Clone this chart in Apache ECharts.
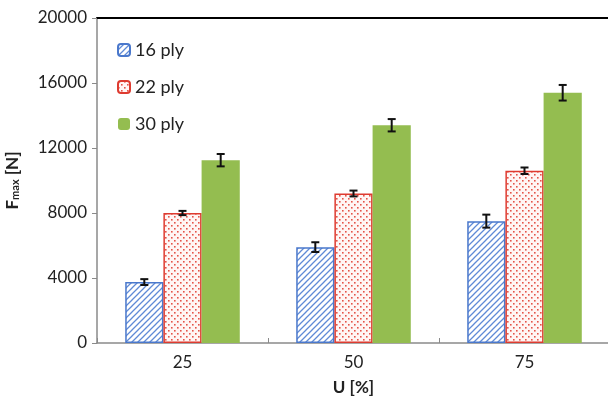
<!DOCTYPE html>
<html>
<head>
<meta charset="utf-8">
<script src="https://cdn.jsdelivr.net/npm/echarts@6/dist/echarts.min.js"></script>
<style>
  html, body { margin: 0; padding: 0; background: #fff; }
  #chart { width: 608px; height: 399px; }
</style>
</head>
<body>
<div id="chart"></div>
<script>
// Utilisation levels and peak force per laminate thickness
const categories = ['25', '50', '75'];
const seriesNames = ['16 ply', '22 ply', '30 ply'];
const ply16 = [3750, 5900, 7500];
const ply22 = [8000, 9200, 10600];
const ply30 = [11250, 13400, 15400];
const err16 = [180, 300, 400];
const err22 = [130, 180, 200];
const err30 = [380, 380, 480];
const yTicks = { min: 0, max: 20000, interval: 4000 };

const FONT = 'Lato, "Open Sans", sans-serif';

// Diagonal blue hatch fill
function hatchPattern() {
  const s = 6;
  const c = document.createElement('canvas');
  c.width = s; c.height = s;
  const g = c.getContext('2d');
  g.fillStyle = '#ffffff';
  g.fillRect(0, 0, s, s);
  g.strokeStyle = '#5f8ad6';
  g.lineWidth = 1.3;
  g.beginPath();
  g.moveTo(-1, s + 1); g.lineTo(s + 1, -1);
  g.moveTo(-1, 1); g.lineTo(1, -1);
  g.moveTo(s - 1, s + 1); g.lineTo(s + 1, s - 1);
  g.stroke();
  return c;
}

// Red dotted fill
function dotPattern() {
  const s = 6;
  const c = document.createElement('canvas');
  c.width = s; c.height = s;
  const g = c.getContext('2d');
  g.fillStyle = '#fff6f5';
  g.fillRect(0, 0, s, s);
  g.fillStyle = '#e4544a';
  g.fillRect(0, 0, 1.6, 1.6);
  g.fillRect(3, 3, 1.6, 1.6);
  return c;
}

const BAR_CAT_GAP = 0.33;
const seriesStyles = [
  { color: { image: hatchPattern(), repeat: 'repeat' }, border: '#4a78cc' },
  { color: { image: dotPattern(), repeat: 'repeat' }, border: '#de3b30' },
  { color: '#94bd50', border: '#94bd50' }
];
const values = [ply16, ply22, ply30];
const errors = [err16, err22, err30];

const barSeries = values.map((vals, i) => ({
  name: seriesNames[i],
  type: 'bar',
  data: vals,
  barGap: 0,
  barCategoryGap: (BAR_CAT_GAP * 100) + '%',
  itemStyle: {
    color: seriesStyles[i].color,
    borderColor: seriesStyles[i].border,
    borderWidth: i === 2 ? 0 : 1.5
  }
}));

const errorSeries = values.map((vals, i) => ({
  type: 'custom',
  name: 'err' + i,
  z: 10,
  encode: { x: 0, y: 1 },
  data: vals.map((v, k) => [k, v, errors[i][k]]),
  renderItem: function (params, api) {
    const idx = api.value(0);
    const v = api.value(1);
    const e = api.value(2);
    const band = api.size([1, 0])[0];
    const barW = band * (1 - BAR_CAT_GAP) / 3;
    const cx = api.coord([idx, v])[0] + (i - 1) * barW;
    const yTop = api.coord([idx, v + e])[1];
    const yBot = api.coord([idx, v - e])[1];
    const half = 4;
    const style = { stroke: '#111', lineWidth: 2, fill: null };
    return {
      type: 'group',
      children: [
        { type: 'line', shape: { x1: cx, y1: yTop, x2: cx, y2: yBot }, style },
        { type: 'line', shape: { x1: cx - half, y1: yTop, x2: cx + half, y2: yTop }, style },
        { type: 'line', shape: { x1: cx - half, y1: yBot, x2: cx + half, y2: yBot }, style }
      ]
    };
  }
}));

const chart = echarts.init(document.getElementById('chart'), null, { renderer: 'canvas' });
chart.setOption({
  animation: false,
  backgroundColor: '#ffffff',
  textStyle: { fontFamily: FONT },
  grid: { left: 97, right: -2, top: 18, bottom: 56, containLabel: false, outerBoundsMode: 'none' },
  legend: {
    data: seriesNames,
    orient: 'vertical',
    left: 112,
    top: 36,
    itemWidth: 12,
    itemHeight: 12,
    itemGap: 19,
    textStyle: { fontSize: 18, color: '#222', fontFamily: FONT }
  },
  xAxis: [{
    type: 'category',
    data: categories,
    name: 'U [%]',
    nameLocation: 'middle',
    nameGap: 36,
    nameTextStyle: { fontSize: 17, fontWeight: 'bold', color: '#222', fontFamily: FONT },
    axisLine: { lineStyle: { color: '#8a8a8a', width: 1.5 } },
    axisTick: { show: true, inside: true, length: 5, lineStyle: { color: '#8a8a8a' } },
    axisLabel: { fontSize: 17, color: '#222', margin: 11, fontFamily: FONT }
  }, {
    type: 'category',
    data: categories,
    position: 'top',
    axisLine: { lineStyle: { color: '#000', width: 2 } },
    axisTick: { show: false },
    axisLabel: { show: false }
  }],
  yAxis: {
    type: 'value',
    min: yTicks.min,
    max: yTicks.max,
    interval: yTicks.interval,
    name: '{b|F}{s|max}{b| [N]}',
    nameLocation: 'middle',
    nameGap: 76,
    nameRotate: 90,
    nameTextStyle: {
      rich: {
        b: { fontSize: 17, fontWeight: 'bold', color: '#222', fontFamily: FONT },
        s: { fontSize: 11, fontWeight: 'bold', color: '#222', fontFamily: FONT, verticalAlign: 'bottom', padding: [6, 0, 0, 0] }
      }
    },
    splitLine: { show: false },
    axisLine: { show: true, lineStyle: { color: '#8a8a8a', width: 1.5 } },
    axisTick: { show: true, length: 5, lineStyle: { color: '#8a8a8a' } },
    axisLabel: {
      fontSize: 17, color: '#222', margin: 10, fontFamily: FONT,
      formatter: (v) => String(v)
    }
  },
  series: [...barSeries, ...errorSeries]
});
</script>
</body>
</html>
